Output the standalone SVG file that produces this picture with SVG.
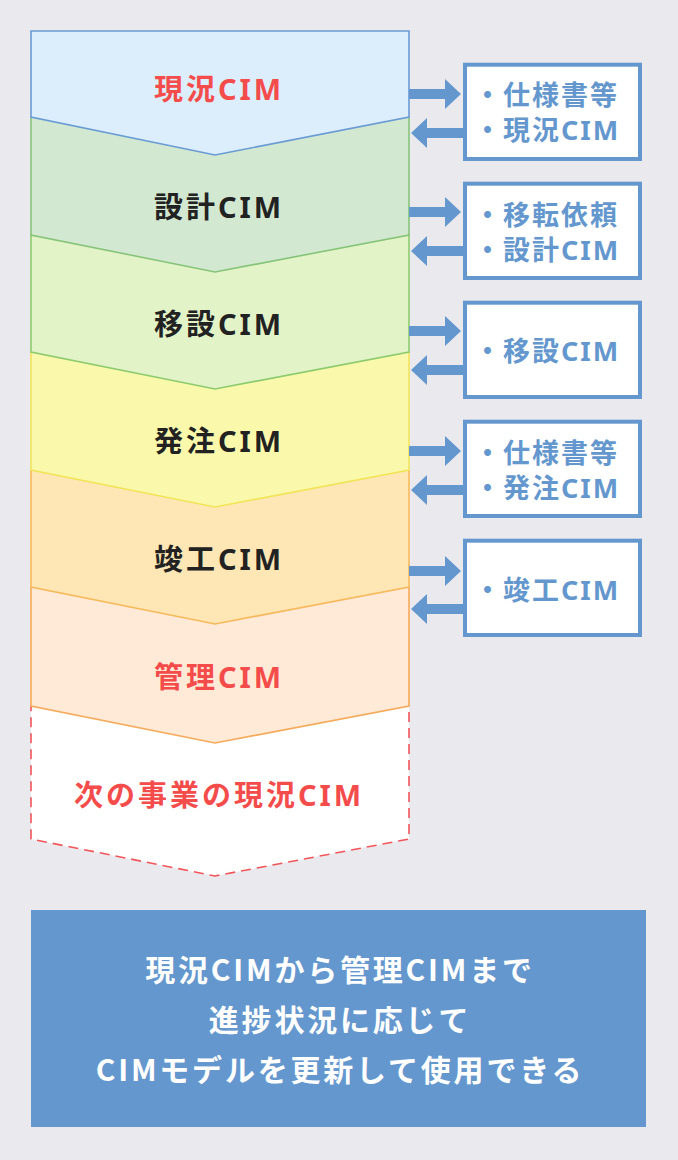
<svg xmlns="http://www.w3.org/2000/svg" width="678" height="1160" viewBox="0 0 678 1160">
<style>
.lbl{font-family:"Noto Sans","Noto Sans CJK JP",sans-serif;font-weight:700;font-size:29px;letter-spacing:3px;text-anchor:middle}
.red{fill:#F44B4B}
.dark{fill:#222222}
.st{stroke-width:1.6;stroke-linejoin:miter}
.box{fill:#FFFFFF;stroke:#6497CE;stroke-width:4}
.btxt{font-family:"Noto Sans","Noto Sans CJK JP",sans-serif;font-weight:700;font-size:27px;letter-spacing:2px;fill:#6497CE}
.arr{fill:#6497CE}
.foot{font-family:"Noto Sans CJK JP",sans-serif;font-weight:700;font-size:30px;letter-spacing:2.8px;fill:#FFFFFF;text-anchor:middle}
</style>
<rect x="0" y="0" width="678" height="1160" fill="#EAE9EE"/>

<g id="stage7">
<polygon points="31,706 409,706 409,839 215,876 31,839" fill="#FFFFFF" stroke="#F2555A" stroke-width="1.6" stroke-dasharray="10,6"/>
<text class="lbl red" x="219" y="806">次の事業の現況CIM</text>
</g>
<g id="stage6">
<polygon class="st" points="31,587 409,587 409,706 215,743 31,706" fill="#FEEAD7" stroke="#F7AA5A"/>
<text class="lbl red" x="219" y="688">管理CIM</text>
</g>
<g id="stage5">
<polygon class="st" points="31,470 409,470 409,587 215,624 31,587" fill="#FEE7B4" stroke="#F8B85C"/>
<text class="lbl dark" x="219" y="570">竣工CIM</text>
</g>
<g id="stage4">
<polygon class="st" points="31,352 409,352 409,470 215,507 31,470" fill="#FAF9AB" stroke="#F2E45A"/>
<text class="lbl dark" x="219" y="452">発注CIM</text>
</g>
<g id="stage3">
<polygon class="st" points="31,235 409,235 409,352 215,389 31,352" fill="#E3F3C8" stroke="#8DCB6E"/>
<text class="lbl dark" x="219" y="335">移設CIM</text>
</g>
<g id="stage2">
<polygon class="st" points="31,117 409,117 409,235 215,272 31,235" fill="#D3E8D1" stroke="#86C47A"/>
<text class="lbl dark" x="219" y="218">設計CIM</text>
</g>
<g id="stage1">
<polygon class="st" points="31,31 409,31 409,117 215,155 31,117" fill="#DCEDFC" stroke="#6A9BD4"/>
<text class="lbl red" x="219" y="100">現況CIM</text>
</g>

<g id="box1">
<rect class="box" x="465" y="64.7" width="175" height="94.3"/>
<text class="btxt" x="474" y="105">・仕様書等</text>
<text class="btxt" x="474" y="140">・現況CIM</text>
</g>
<g id="box2">
<rect class="box" x="465" y="183.7" width="175" height="94.3"/>
<text class="btxt" x="474" y="225">・移転依頼</text>
<text class="btxt" x="474" y="260">・設計CIM</text>
</g>
<g id="box3">
<rect class="box" x="465" y="302.7" width="175" height="94.3"/>
<text class="btxt" x="474" y="361">・移設CIM</text>
</g>
<g id="box4">
<rect class="box" x="465" y="421.7" width="175" height="94.3"/>
<text class="btxt" x="474" y="463">・仕様書等</text>
<text class="btxt" x="474" y="498">・発注CIM</text>
</g>
<g id="box5">
<rect class="box" x="465" y="540.7" width="175" height="94.3"/>
<text class="btxt" x="474" y="599.5">・竣工CIM</text>
</g>

<g id="connectors">
<path class="arr" d="M409,89 H445 V79 L461,94 L445,109 V99 H409 Z"/>
<path class="arr" d="M463,128 H427 V118 L411,133 L427,148 V138 H463 Z"/>
<path class="arr" d="M409,207 H445 V197 L461,212 L445,227 V217 H409 Z"/>
<path class="arr" d="M463,246 H427 V236 L411,251 L427,266 V256 H463 Z"/>
<path class="arr" d="M409,326 H445 V316 L461,331 L445,346 V336 H409 Z"/>
<path class="arr" d="M463,365 H427 V355 L411,370 L427,385 V375 H463 Z"/>
<path class="arr" d="M409,446 H445 V436 L461,451 L445,466 V456 H409 Z"/>
<path class="arr" d="M463,485 H427 V475 L411,490 L427,505 V495 H463 Z"/>
<path class="arr" d="M409,566 H445 V556 L461,571 L445,586 V576 H409 Z"/>
<path class="arr" d="M463,604 H427 V594 L411,609 L427,624 V614 H463 Z"/>
</g>

<g id="summary">
<rect x="31" y="910" width="615" height="217" fill="#6497CE"/>
<text class="foot" x="340" y="981">現況CIMから管理CIMまで</text>
<text class="foot" x="340" y="1031">進捗状況に応じて</text>
<text class="foot" x="340" y="1081">CIMモデルを更新して使用できる</text>
</g>
</svg>
